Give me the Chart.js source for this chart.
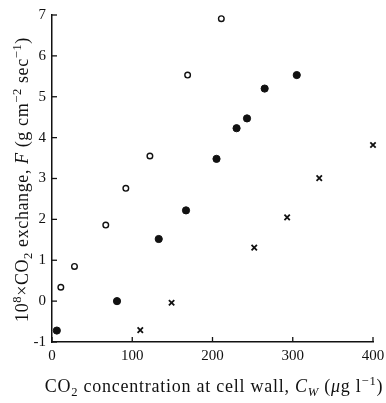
<!DOCTYPE html>
<html>
<head>
<meta charset="utf-8">
<script src="https://cdn.jsdelivr.net/npm/chart.js@4"></script>
<style>
  body { margin: 0; background: #fff; }
</style>
</head>
<body>
<canvas id="co2Chart" width="386" height="403"></canvas>
<script>
// open circles
const openX = [11, 28, 67, 92, 122, 169, 211];
const openY = [0.34, 0.85, 1.86, 2.76, 3.55, 5.53, 6.91];
// filled circles
const filledX = [6, 81, 133, 167, 205, 230, 243, 265, 305];
const filledY = [-0.72, 0.0, 1.52, 2.22, 3.48, 4.23, 4.47, 5.2, 5.53];
// crosses
const crossX = [110, 149, 252, 293, 333, 400];
const crossY = [-0.71, -0.04, 1.31, 2.05, 3.01, 3.82];

const xTicks = [0, 100, 200, 300, 400];
const yTicks = [-1, 0, 1, 2, 3, 4, 5, 6, 7];

const serif = "'Liberation Serif', 'DejaVu Serif', serif";

const toPoints = (xs, ys) => xs.map((x, i) => ({ x: x, y: ys[i] }));

// draws a label made of pieces, some raised or lowered
function drawRich(ctx, segs, size, spacing) {
  ctx.letterSpacing = spacing + "px";
  const pieces = segs.map((s) => {
    const fs = s.sup || s.sub ? size * 0.7 : size;
    const font = (s.it ? "italic " : "") + fs + "px " + serif;
    ctx.font = font;
    return { t: s.t, font: font, w: ctx.measureText(s.t).width,
      dy: s.sup ? -size * 0.4 : s.sub ? size * 0.22 : 0 };
  });
  const total = pieces.reduce((a, p) => a + p.w, 0);
  let x = -total / 2;
  ctx.textBaseline = "alphabetic";
  ctx.textAlign = "left";
  pieces.forEach((p) => {
    ctx.font = p.font;
    ctx.fillText(p.t, x, p.dy);
    x += p.w;
  });
  ctx.letterSpacing = "0px";
}

const yTitle = [
  { t: "10" }, { t: "8", sup: true }, { t: "\u00d7CO" }, { t: "2", sub: true },
  { t: " exchange, " }, { t: "F", it: true }, { t: " (g cm" }, { t: "\u22122", sup: true },
  { t: " sec" }, { t: "\u22121", sup: true }, { t: ")" }
];
const xTitle = [
  { t: "CO" }, { t: "2", sub: true }, { t: " concentration at cell wall, " },
  { t: "C", it: true }, { t: "W", sub: true, it: true }, { t: " (" }, { t: "\u03bc", it: true },
  { t: "g l" }, { t: "\u22121", sup: true }, { t: ")" }
];

const axisDecor = {
  id: "axisDecor",
  afterDraw(chart) {
    const ctx = chart.ctx;
    const area = chart.chartArea;
    const xs = chart.scales.x;
    const ys = chart.scales.y;
    ctx.save();
    ctx.strokeStyle = "#111";
    ctx.lineWidth = 1.3;
    // inward ticks
    xTicks.forEach((v) => {
      const px = xs.getPixelForValue(v);
      ctx.beginPath();
      ctx.moveTo(px, area.bottom);
      ctx.lineTo(px, area.bottom - 5);
      ctx.stroke();
    });
    yTicks.forEach((v) => {
      const py = ys.getPixelForValue(v);
      ctx.beginPath();
      ctx.moveTo(area.left, py);
      ctx.lineTo(area.left + 5, py);
      ctx.stroke();
    });
    // axis titles
    ctx.fillStyle = "#111";
    ctx.save();
    ctx.translate(214, 392);
    drawRich(ctx, xTitle, 18, 0.75);
    ctx.restore();
    ctx.save();
    ctx.translate(28, (area.top + area.bottom) / 2 + 1);
    ctx.rotate(-Math.PI / 2);
    drawRich(ctx, yTitle, 18, 0.6);
    ctx.restore();
    ctx.restore();
  }
};

new Chart(document.getElementById("co2Chart"), {
  type: "scatter",
  data: {
    datasets: [
      {
        label: "open",
        data: toPoints(openX, openY),
        pointStyle: "circle",
        pointRadius: 2.8,
        borderColor: "#111",
        backgroundColor: "#fff",
        borderWidth: 1.4
      },
      {
        label: "filled",
        data: toPoints(filledX, filledY),
        pointStyle: "circle",
        pointRadius: 3.6,
        borderColor: "#111",
        backgroundColor: "#111",
        borderWidth: 1
      },
      {
        label: "cross",
        data: toPoints(crossX, crossY),
        pointStyle: "crossRot",
        pointRadius: 3.8,
        borderColor: "#111",
        borderWidth: 1.8
      }
    ]
  },
  options: {
    responsive: false,
    animation: false,
    clip: false,
    layout: { padding: { top: 11, right: 13, left: 0, bottom: 0 } },
    plugins: {
      legend: { display: false },
      tooltip: { enabled: false }
    },
    scales: {
      x: {
        type: "linear",
        min: 0,
        max: 400,
        afterBuildTicks: (s) => { s.ticks = xTicks.map((v) => ({ value: v })); },
        afterFit: (s) => { s.height = 61; s.paddingRight = 0; },
        grid: { display: false, drawTicks: false },
        border: { display: true, color: "#111", width: 1.5 },
        ticks: { color: "#111", padding: 5, font: { family: serif, size: 15 } }
      },
      y: {
        type: "linear",
        min: -1,
        max: 7,
        afterBuildTicks: (s) => { s.ticks = yTicks.map((v) => ({ value: v })); },
        afterFit: (s) => { s.width = 52; },
        grid: { display: false, drawTicks: false },
        border: { display: true, color: "#111", width: 1.5 },
        ticks: { color: "#111", padding: 6, font: { family: serif, size: 15 } }
      }
    }
  },
  plugins: [axisDecor]
});
</script>
</body>
</html>
